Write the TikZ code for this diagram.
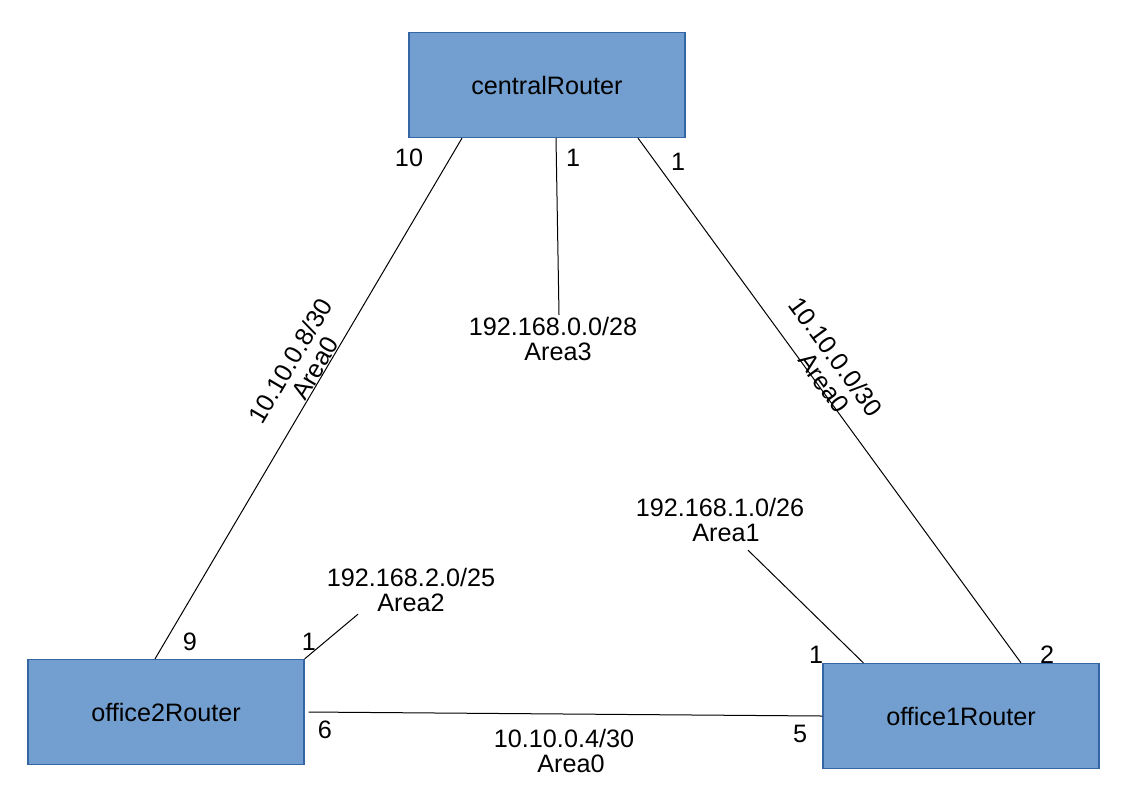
\documentclass[tikz,border=0pt]{standalone}
\usepackage{fontspec}
\setmainfont{Liberation Sans}
\usetikzlibrary{positioning}

\definecolor{routerfill}{HTML}{729FCF}
\definecolor{routerdraw}{HTML}{3465A4}

\tikzset{
  router/.style={rectangle, draw=routerdraw, fill=routerfill, line width=0.6pt,
    minimum width=138pt, minimum height=52.5pt, font=\fontsize{12.6pt}{12.5pt}\selectfont},
  netlabel/.style={align=center, inner sep=1pt, font=\fontsize{12.6pt}{12.5pt}\selectfont},
  port/.style={inner sep=0pt, font=\fontsize{12.6pt}{12.5pt}\selectfont},
  link/.style={line width=0.5pt, black}
}

\begin{document}
\begin{tikzpicture}[x=0.5pt, y=-0.5pt]
    \useasboundingbox (0,0) rectangle (1123,794);
      %the three routers
    \node[router] (central) at (547,85) {centralRouter};
    \node[router] (office2) at (166,712) {office2Router};
    \node[router] (office1) at (961,716) {office1Router};
      %subnet labels
    \node[netlabel] (lan3) at (553,339) {192.168.0.0/28\\\hspace*{5pt}Area3};
    \node[netlabel] (lan2) at (411,590) {192.168.2.0/25\\Area2};
    \node[netlabel] (lan1) at (720,520) {192.168.1.0/26\\\hspace*{6pt}Area1};
    \node[netlabel] (net04) at (564,751) {10.10.0.4/30\\\hspace*{7pt}Area0};
    \node[netlabel, rotate=59.4] (net08) at (301,367) {10.10.0.8/30\\\hspace*{6pt}Area0};
    \node[netlabel, rotate=-53.9] (net00) at (826,364) {10.10.0.0/30\\\hspace*{14pt}Area0};
      %links
    \draw[link] ([xshift=-42.5pt]central.south) -- ([xshift=-5.5pt]office2.north);
    \draw[link] ([xshift=4.5pt]central.south) -- ([xshift=3pt]lan3.north);
    \draw[link] ([xshift=45.5pt]central.south) -- ([xshift=30pt]office1.north);
    \draw[link] ([xshift=2pt]office2.east) -- (office1.west);
    \draw[link] (office2.north east) -- ([xshift=-26.5pt]lan2.south);
    \draw[link] ([xshift=20.5pt]office1.north west) -- ([xshift=14pt,yshift=-3pt]lan1.south);
      %interface numbers
    \node[port] (p10) at (409,158) {10};
    \node[port] (p1c) at (573,158) {1};
    \node[port] (p1r) at (678,162) {1};
    \node[port] (p9) at (190,642) {9};
    \node[port] (p1o2) at (309,642) {1};
    \node[port] (p6) at (325,730) {6};
    \node[port] (p1o1) at (816,655) {1};
    \node[port] (p2) at (1047,655) {2};
    \node[port] (p5) at (800,734) {5};
\end{tikzpicture}
\end{document}
